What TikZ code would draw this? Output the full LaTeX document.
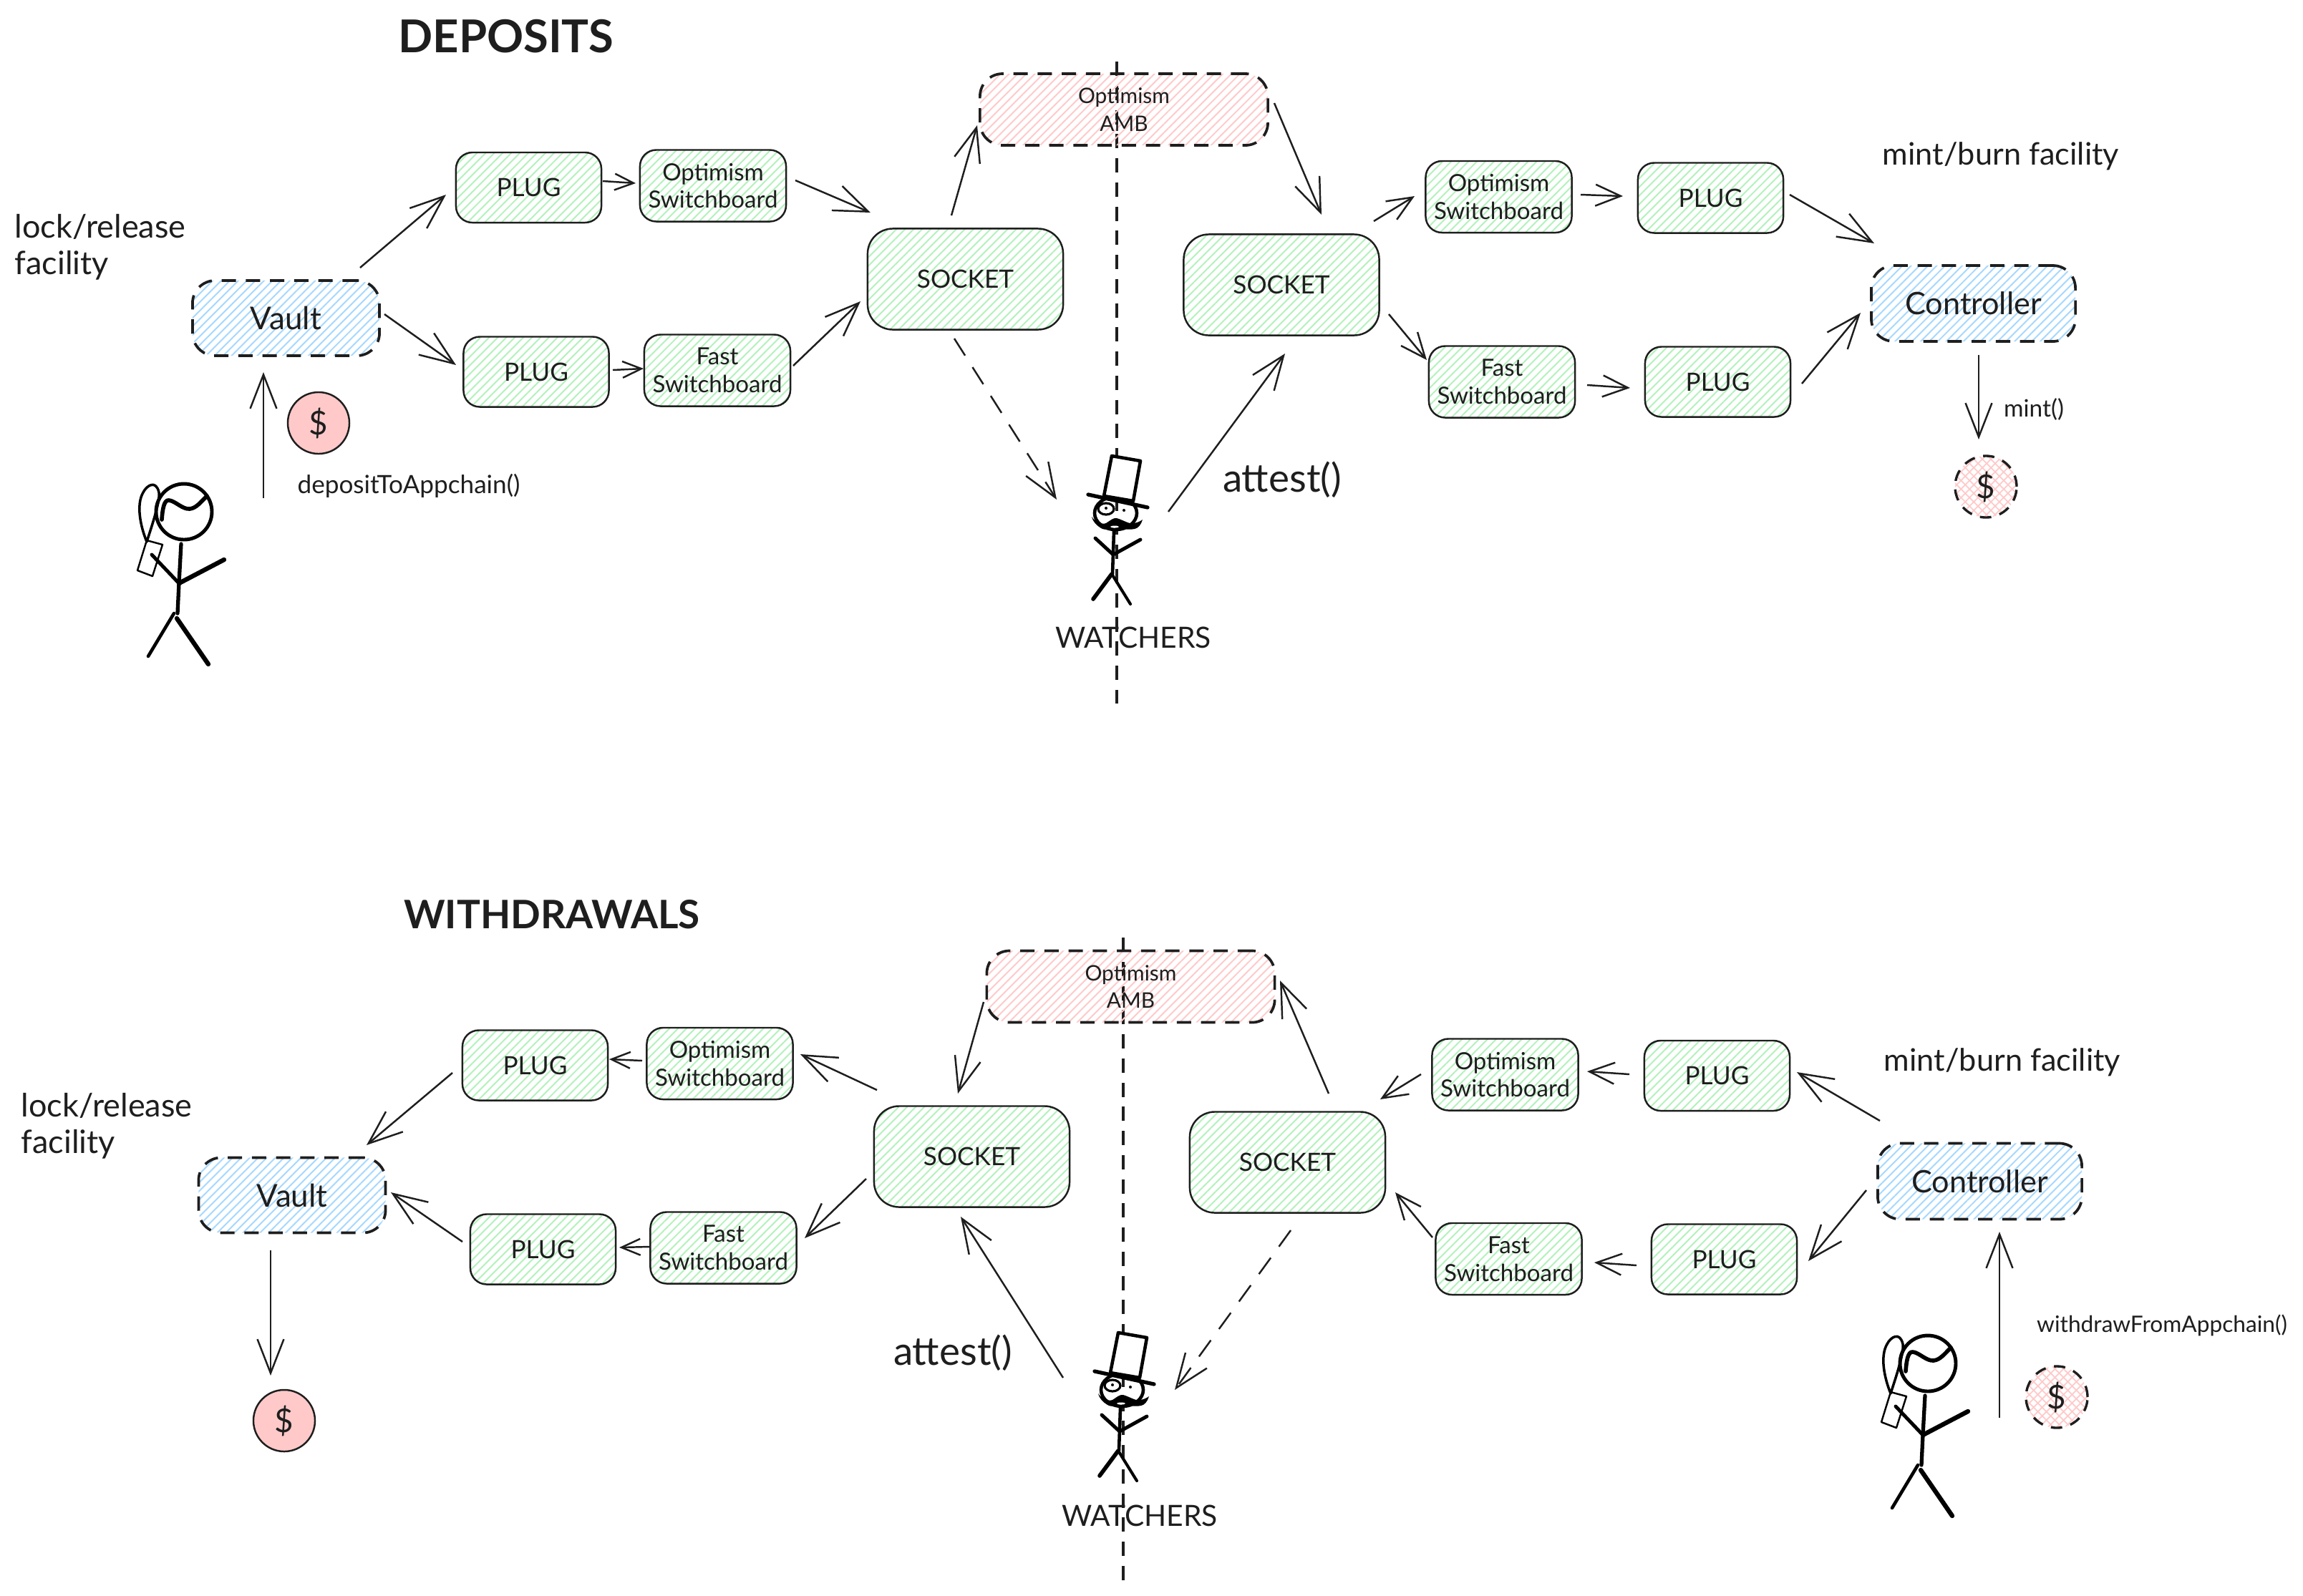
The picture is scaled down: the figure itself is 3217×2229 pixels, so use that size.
\documentclass[tikz,border=0pt]{standalone}
\usepackage{fontspec}
\setmainfont{Lato}
\usetikzlibrary{arrows.meta,patterns.meta}
\definecolor{ink}{HTML}{1E1E1E}
\definecolor{hgreen}{HTML}{B2F2BB}
\definecolor{hblue}{HTML}{A5D8FF}
\definecolor{hred}{HTML}{FFC9C9}
\newcommand{\txt}[2]{\fontsize{#1}{#2}\selectfont}
% connector: from node #2 (offset #3) to node #4 (offset #5)
\newcommand{\cn}[5][arr]{\draw[#1] ([shift={(#3)}]#2.center) -- ([shift={(#5)}]#4.center);}
\tikzset{
  hatch/.style={pattern={Lines[angle=45,distance=2.4pt,line width=0.55pt]},pattern color=#1},
  crosshatch/.style={preaction={pattern={Lines[angle=-45,distance=2.4pt,line width=0.5pt]},pattern color=#1},
    pattern={Lines[angle=45,distance=2.4pt,line width=0.5pt]},pattern color=#1},
  solidbox/.style={draw=ink,line width=0.7pt,hatch=hgreen,inner sep=0pt,align=center,text=ink},
  plugbox/.style={solidbox,rounded corners=6.5pt,minimum width=2.03cm,minimum height=0.98cm,font=\txt{10}{12}},
  switchbox/.style={solidbox,rounded corners=6.5pt,minimum width=2.04cm,minimum height=1.0cm,font=\txt{9.4}{11}},
  socketbox/.style={solidbox,rounded corners=10pt,minimum width=2.73cm,minimum height=1.41cm,font=\txt{10}{12}},
  dashbox/.style={draw=ink,line width=1.05pt,dash pattern=on 5.7pt off 3.9pt,inner sep=0pt,align=center,text=ink},
  vaultbox/.style={dashbox,hatch=hblue,rounded corners=9pt,minimum width=2.61cm,minimum height=1.05cm,font=\txt{12.5}{14}},
  ctrlbox/.style={dashbox,hatch=hblue,rounded corners=9pt,minimum width=2.85cm,minimum height=1.06cm,font=\txt{12.3}{14}},
  ambbox/.style={dashbox,hatch=hred,rounded corners=9pt,minimum width=4.02cm,minimum height=1.0cm,font=\txt{8.5}{11}},
  coin/.style={circle,draw=ink,line width=0.7pt,fill=hred,minimum size=0.86cm,inner sep=0pt,text=ink,font=\txt{13}{14}},
  dashcoin/.style={circle,draw=ink,line width=0.95pt,dash pattern=on 4.5pt off 3.4pt,crosshatch=hred,minimum size=0.86cm,inner sep=0pt,text=ink,font=\txt{13}{14}},
  label/.style={text=ink,inner sep=0pt,align=left},
  arr/.style={draw=ink,line width=0.7pt,-{Straight Barb[length=13.5pt,width=10.5pt]}},
  arrm/.style={draw=ink,line width=0.7pt,-{Straight Barb[length=10pt,width=8.5pt]}},
  arrs/.style={draw=ink,line width=0.7pt,-{Straight Barb[length=7.5pt,width=6.5pt]}},
  arrd/.style={arr,dash pattern=on 8pt off 5.5pt},
  divider/.style={draw=ink,line width=1.15pt,dash pattern=on 5.7pt off 3.9pt},
  stick/.style={draw=black,line cap=round,line join=round},
}
\newcommand{\girlfigure}{%
  \draw[stick,line width=1.4pt] (257,715) circle (39);
  \draw[stick,line width=1.6pt] (226,726) .. controls (227,712) and (229,698) .. (236,699) .. controls (245,700) and (255,712) .. (265,711) .. controls (274,710) and (280,702) .. (289,693);
  \draw[stick,line width=1pt] (205,757) .. controls (196,735) and (190,705) .. (200,688) .. controls (205,678) and (218,670) .. (222,688) .. controls (224,700) and (212,735) .. (205,757);
  \draw[stick,line width=0.7pt] (205,755) -- (227,761) -- (213,805) -- (192,797) -- cycle;
  \draw[stick,line width=1.5pt] (253,760) -- (250,815) -- (248,857);
  \draw[stick,line width=1.4pt] (212,775) -- (250,815);
  \draw[stick,line width=1.8pt] (250,815) -- (313,782);
  \draw[stick,line width=1.3pt] (243,857) -- (207,917);
  \draw[stick,line width=1.8pt] (247,864) -- (291,928);
}
\newcommand{\watcherfigure}{%
  \draw[stick,line width=1.3pt] (1558.5,717) ellipse (29.5 and 23);
  \draw[stick,line width=1.3pt,fill=white] (1553,637) -- (1593,644) -- (1583,700) -- (1542,693) -- cycle;
  \draw[stick,line width=1.5pt] (1520,691) -- (1603,709);
  \draw[stick,line width=0.9pt] (1545,711) ellipse (11 and 8);
  \fill[black] (1545,710) circle (2);
  \fill[black] (1570,713) circle (2);
  \fill[black] (1525,722) .. controls (1530,730) and (1540,733) .. (1545,731) .. controls (1550,728) and (1555,723) .. (1560,724) .. controls (1570,727) and (1578,733) .. (1584,731) .. controls (1590,730) and (1593,728) .. (1596,726) .. controls (1594,733) and (1590,738) .. (1585,739) .. controls (1575,741) and (1565,738) .. (1558,737) .. controls (1550,738) and (1545,742) .. (1538,738) .. controls (1532,734) and (1527,730) .. (1525,722) -- cycle;
  \fill[white] (1557,736) ellipse (6 and 1.5);
  \draw[stick,line width=1.3pt] (1556,742) -- (1554,802);
  \draw[stick,line width=1.4pt] (1530,752) -- (1555,775) -- (1593,754);
  \draw[stick,line width=1.6pt] (1553,802) -- (1527,837);
  \draw[stick,line width=1.15pt] (1553,802) -- (1579,844);
}
\begin{document}
\begin{tikzpicture}[x=0.01cm,y=-0.01cm]
\useasboundingbox (0,0) rectangle (3217,2229);
\fill[white] (0,0) rectangle (3217,2229);

% ------- dividers
\coordinate (divAtop) at (1560,86);
\coordinate (divAbot) at (1560,983);
\coordinate (divBtop) at (1569,1310);
\coordinate (divBbot) at (1569,2209);
\draw[divider] (divAtop) -- (divAbot);
\draw[divider] (divBtop) -- (divBbot);

% ------- DEPOSITS
\node[label,font=\bfseries\txt{18}{20}] (titleA) at (707,51) {DEPOSITS};
\node[label,anchor=west,font=\txt{12.8}{14.5}] (lockA) at (20,345) {lock/release\\facility};
\node[label,font=\txt{12.3}{14}] (mintA) at (2795,218) {mint/burn facility};
\node[label,font=\txt{10}{12}] (depA) at (571,679) {depositToAppchain()};
\node[label,font=\txt{15.6}{18}] (attA) at (1791,670) {attest()};
\node[label,font=\txt{11.6}{14}] (watchtxtA) at (1583,891) {WATCHERS};
\node[label,font=\txt{9.5}{11}] (minttxt) at (2841,572) {mint()};

\node[vaultbox] (vaultA) at (399.5,444.5) {Vault};
\node[plugbox] (plugA) at (738.5,262) {PLUG};
\node[switchbox] (optA) at (996,259.5) {Optimism\\Switchboard};
\node[plugbox] (plugB) at (749,519.5) {PLUG};
\node[switchbox] (fastA) at (1002,517.5) {Fast\\Switchboard};
\node[socketbox] (sockA) at (1348.5,390) {SOCKET};
\node[ambbox] (ambA) at (1570,153) {Optimism\\AMB};
\node[socketbox] (sockB) at (1790,398) {SOCKET};
\node[switchbox] (optB) at (2093.5,275) {Optimism\\Switchboard};
\node[plugbox] (plugC) at (2389.5,276.5) {PLUG};
\node[switchbox] (fastB) at (2098,533.5) {Fast\\Switchboard};
\node[plugbox] (plugD) at (2399.5,533.5) {PLUG};
\node[ctrlbox] (ctrlA) at (2756.5,424) {Controller};
\node[coin] (coinA) at (445,591) {\$};
\node[dashcoin] (coinB) at (2774,680) {\$};
\coordinate (girlA) at (250,790);
\coordinate (watchA) at (1560,750);

\girlfigure
\watcherfigure

\cn{girlA}{118,-94}{vaultA}{-31.5,75.5}
\cn{vaultA}{103.5,-70.5}{plugA}{-115.5,10}
\cn{vaultA}{137.5,-5.5}{plugB}{-112,-9.5}
\cn[arrs]{plugA}{103.5,-9}{optA}{-108,-3.5}
\cn[arrs]{plugB}{107,-2.5}{fastA}{-103,-2.5}
\cn{optA}{115,-7.5}{sockA}{-132.5,-93}
\cn{fastA}{106,-6.5}{sockA}{-146.5,31}
\cn{sockA}{-19.5,-89}{ambA}{-205,22}
\cn{ambA}{210,-9}{sockB}{56,-98}
\cn[arrd]{sockA}{-15.5,83}{watchA}{-84,-52}
\cn{watchA}{72,-35}{sockB}{5,96}
\cn[arrm]{sockB}{129,-89}{optB}{-117.5,-1}
\cn[arrm]{sockB}{150,41}{fastB}{-105,-30.5}
\cn[arrm]{optB}{114.5,-3}{plugC}{-122.5,-2.5}
\cn[arrm]{fastB}{119,4.5}{plugD}{-122.5,8.5}
\cn{plugC}{110.5,-4.5}{ctrlA}{-138.5,-84}
\cn{plugD}{117.5,2.5}{ctrlA}{-157.5,13}
\cn{ctrlA}{7.5,72}{coinB}{-10,-66}

% ------- WITHDRAWALS
\node[label,font=\bfseries\txt{15.6}{18}] (titleB) at (771,1278) {WITHDRAWALS};
\node[label,anchor=west,font=\txt{12.8}{14.5}] (lockB) at (29,1573) {lock/release\\facility};
\node[label,font=\txt{12.3}{14}] (mintB) at (2797,1484) {mint/burn facility};
\node[label,font=\txt{9}{11}] (witA) at (3020,1852) {withdrawFromAppchain()};
\node[label,font=\txt{15.6}{18}] (attB) at (1331,1890) {attest()};
\node[label,font=\txt{11.6}{14}] (watchtxtB) at (1592,2118) {WATCHERS};

\node[vaultbox] (vaultB) at (408,1670) {Vault};
\node[plugbox] (plugE) at (747.5,1488.5) {PLUG};
\node[switchbox] (optC) at (1005.5,1486) {Optimism\\Switchboard};
\node[plugbox] (plugF) at (758.5,1745.5) {PLUG};
\node[switchbox] (fastC) at (1010.5,1743.5) {Fast\\Switchboard};
\node[socketbox] (sockC) at (1357.5,1616) {SOCKET};
\node[ambbox] (ambB) at (1579.5,1378.5) {Optimism\\AMB};
\node[socketbox] (sockD) at (1798.5,1624) {SOCKET};
\node[switchbox] (optD) at (2102.5,1501.5) {Optimism\\Switchboard};
\node[plugbox] (plugG) at (2398.5,1503) {PLUG};
\node[switchbox] (fastD) at (2107.5,1759) {Fast\\Switchboard};
\node[plugbox] (plugH) at (2408.5,1759.5) {PLUG};
\node[ctrlbox] (ctrlB) at (2765.5,1650.5) {Controller};
\node[coin] (coinC) at (397,1985) {\$};
\node[dashcoin] (coinD) at (2873,1952) {\$};
\coordinate (girlB) at (2686,1983);
\coordinate (watchB) at (1569,1977);

\begin{scope}[shift={(2436,1190)}]\girlfigure\end{scope}
\begin{scope}[shift={(9,1225)}]\watcherfigure\end{scope}

\cn{girlB}{107,-2}{ctrlB}{27.5,70.5}
\cn{plugE}{-115.5,10.5}{vaultB}{104,-70}
\cn{plugF}{-112.5,-10.5}{vaultB}{138,-4}
\cn[arrs]{optC}{-108.5,-4}{plugE}{103.5,-8.5}
\cn[arrs]{fastC}{-103.5,-1.5}{plugF}{106.5,-2.5}
\cn{vaultB}{-30,77}{coinC}{-19,-63}
\cn{sockC}{-132.5,-93}{optC}{112.5,-13}
\cn{sockC}{-147.5,31}{fastC}{113.5,-13.5}
\cn{ambB}{-205.5,21.5}{sockC}{-19.5,-88}
\cn{sockD}{57.5,-96}{ambB}{208.5,-8.5}
\cn{watchB}{-84,-52}{sockC}{-15.5,84}
\cn[arrd]{sockD}{4.5,95}{watchB}{72,-35}
\cn[arrm]{optD}{-117.5,-0.5}{sockD}{129.5,-88}
\cn[arrm]{fastD}{-106.5,-30}{sockD}{150.5,42}
\cn[arrm]{plugG}{-122.5,-2}{optD}{114.5,-4.5}
\cn[arrm]{plugH}{-122.5,8.5}{fastD}{119.5,5}
\cn{ctrlB}{-139.5,-84.5}{plugG}{111.5,-5}
\cn{ctrlB}{-158.5,12.5}{plugH}{117.5,2.5}
\end{tikzpicture}
\end{document}
